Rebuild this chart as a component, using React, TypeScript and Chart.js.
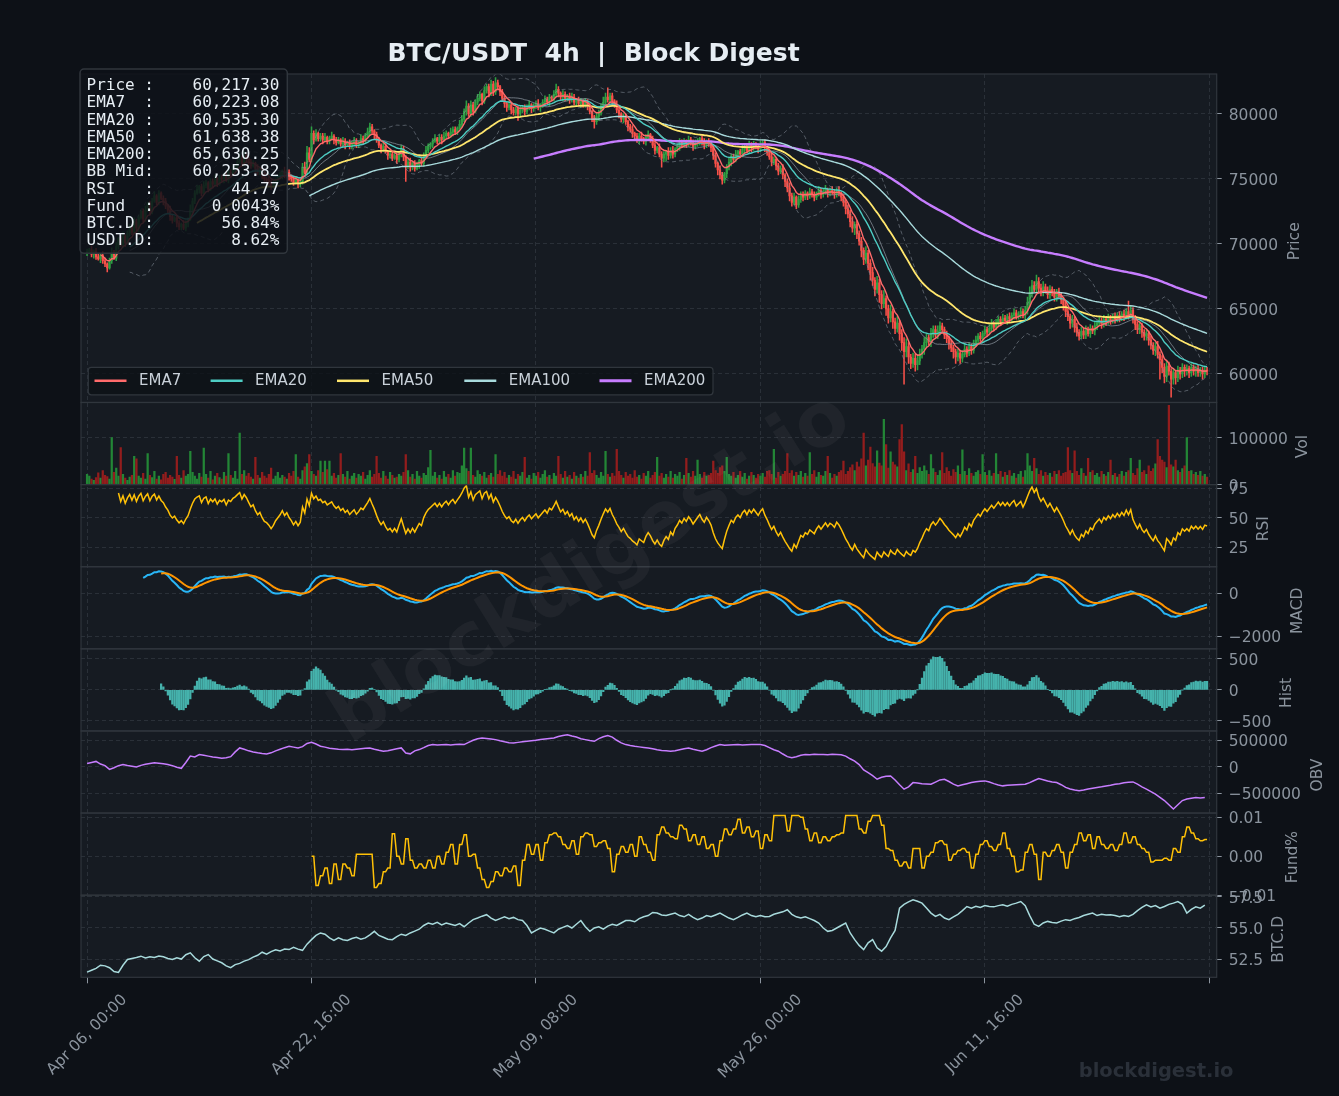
import React, { useEffect, useRef } from 'react';
import { Chart, registerables } from 'chart.js';

Chart.register(...registerables);

// ---------------- data ----------------
const TITLE = 'BTC/USDT  4h  |  Block Digest';
const X_TICKS = [0, 100, 200, 300, 400, 500];
const X_TICK_LABELS = ['Apr 06, 00:00', 'Apr 22, 16:00', 'May 09, 08:00', 'May 26, 00:00', 'Jun 11, 16:00', ''];

const FIRST_OPEN = 69300;
// 4h closes, in units of $10
const CLOSE_X10 = [
  6940,6955,6920,6945,6900,6885,6910,6870,6845,6815,6870,6930,6890,6980,7040,6990,7060,7010,7080,7130,
  7090,7170,7120,7200,7250,7190,7260,7310,7250,7330,7370,7320,7390,7350,7330,7290,7260,7210,7180,7200,
  7160,7130,7150,7120,7160,7190,7260,7330,7390,7420,7440,7390,7450,7470,7420,7480,7460,7500,7460,7510,
  7500,7530,7490,7550,7540,7580,7600,7630,7660,7620,7680,7660,7630,7600,7620,7580,7550,7570,7530,7500,
  7490,7470,7440,7460,7490,7510,7530,7560,7530,7550,7520,7500,7470,7490,7460,7480,7590,7550,7700,7650,
  7850,7800,7850,7810,7830,7800,7820,7790,7810,7830,7800,7780,7800,7770,7790,7760,7780,7750,7770,7790,
  7760,7780,7810,7800,7830,7860,7900,7870,7840,7800,7760,7730,7750,7710,7680,7690,7660,7680,7650,7690,
  7730,7670,7600,7630,7590,7620,7580,7610,7640,7620,7680,7720,7750,7770,7790,7810,7790,7820,7800,7830,
  7850,7830,7860,7880,7860,7890,7920,7960,8020,8060,8000,8070,8020,8090,8120,8150,8100,8180,8210,8160,
  8230,8170,8240,8210,8170,8120,8080,8050,8070,8030,8010,8040,8000,8030,8050,8020,8050,8070,8040,8060,
  8080,8050,8070,8090,8110,8090,8130,8120,8150,8190,8160,8130,8150,8120,8140,8110,8130,8090,8110,8080,
  8100,8070,8090,8060,8020,7970,7940,7980,8010,8050,8090,8130,8110,8140,8100,8070,8030,8000,7960,7980,
  7940,7900,7880,7850,7830,7800,7830,7810,7790,7820,7840,7810,7760,7720,7740,7690,7660,7690,7710,7680,
  7720,7690,7730,7750,7780,7760,7790,7770,7800,7780,7750,7770,7790,7810,7780,7760,7790,7770,7740,7680,
  7620,7570,7530,7490,7540,7590,7630,7670,7650,7690,7710,7690,7730,7750,7720,7760,7740,7770,7750,7730,
  7760,7780,7740,7710,7670,7630,7650,7600,7560,7580,7530,7480,7430,7370,7320,7360,7300,7340,7380,7360,
  7390,7370,7400,7380,7360,7390,7410,7380,7400,7420,7390,7410,7400,7380,7410,7390,7360,7320,7270,7230,
  7170,7120,7150,7080,7020,6950,6880,6930,6850,6780,6720,6650,6700,6610,6540,6580,6500,6430,6480,6400,
  6350,6390,6310,6240,6170,6210,6130,6080,6120,6070,6100,6150,6190,6240,6280,6250,6310,6340,6300,6330,
  6370,6340,6300,6270,6230,6200,6170,6130,6160,6120,6150,6190,6160,6210,6180,6230,6260,6290,6270,6310,
  6340,6320,6350,6380,6360,6390,6420,6400,6430,6410,6440,6420,6450,6470,6440,6460,6480,6450,6490,6550,
  6620,6680,6650,6710,6660,6630,6670,6640,6610,6650,6620,6590,6630,6600,6570,6530,6480,6440,6390,6420,
  6360,6320,6290,6330,6300,6340,6310,6350,6330,6370,6390,6410,6380,6420,6400,6430,6410,6440,6420,6450,
  6430,6460,6440,6480,6450,6490,6420,6380,6340,6370,6320,6290,6310,6260,6220,6180,6210,6150,6110,6050,
  5980,6060,6020,5960,6010,5970,6030,6000,6050,6020,6040,6010,6050,6020,6040,6010,6030,6000,6030,6021.73,
];
// upper / lower wick beyond the body, in units of $100
const WICK_UP_X100 = [
  2,1,3,1,2,2,1,3,2,1,2,4,2,3,1,2,3,1,2,2, 1,3,2,2,1,2,3,1,2,2,3,1,2,1,2,2,1,3,2,1,
  2,2,1,3,2,1,4,2,2,3,1,2,3,2,1,2,2,3,1,2, 2,1,3,2,2,3,1,2,4,2,3,2,1,2,2,1,3,2,1,2,
  1,2,2,3,1,2,2,1,3,2,2,1,2,3,1,2,3,4,5,4, 5,2,3,1,2,2,3,1,2,3,1,2,2,1,3,2,1,2,2,3,
  2,1,3,2,2,3,3,2,1,2,2,1,3,2,1,2,2,3,1,2, 3,2,1,2,3,1,2,2,1,3,2,3,2,1,2,3,1,2,2,3,
  2,1,3,2,2,1,3,3,2,4,2,3,2,2,3,2,1,3,2,2, 3,2,4,2,1,2,2,1,3,2,2,1,2,3,1,2,2,3,1,2,
  2,3,1,2,3,2,2,1,3,4,2,1,3,2,1,2,3,2,1,2, 2,1,3,2,2,1,2,3,2,3,4,3,7,2,2,1,3,2,1,2,
  2,1,2,3,1,2,2,3,1,2,3,1,2,2,1,3,2,2,1,3, 2,3,1,2,3,2,2,1,3,2,2,3,2,1,2,3,1,2,2,1,
  2,1,3,2,1,2,3,2,2,3,1,2,3,2,1,3,2,2,1,2, 3,2,2,1,2,3,2,1,2,2,3,1,2,4,2,3,1,3,2,2,
  2,1,3,2,2,1,3,2,2,3,1,2,3,2,2,3,1,2,2,3, 3,4,2,3,2,3,2,5,2,3,4,2,5,3,3,6,2,3,5,2,
  3,5,2,3,4,6,3,2,4,3,5,4,3,4,3,2,4,3,3,4, 3,2,2,3,2,3,2,2,3,2,3,4,2,3,2,3,3,2,3,2,
  3,2,3,4,2,3,2,2,3,2,2,3,2,3,2,2,3,2,3,4, 5,4,3,5,3,3,4,2,3,3,2,3,2,3,2,2,3,2,2,3,
  2,3,2,3,2,3,2,3,2,3,2,3,2,3,2,3,2,2,3,2, 3,2,3,2,8,3,2,3,2,3,2,2,3,2,3,2,3,4,2,3,
  3,4,3,2,3,2,3,2,3,2,3,2,3,2,2,3,2,2,3,2,
];
const WICK_DN_X100 = [
  2,1,2,3,2,1,3,2,2,3,1,2,1,2,2,1,2,3,1,2, 2,1,2,3,1,2,2,1,3,2,1,2,2,1,3,2,2,3,2,1,
  3,2,2,1,2,3,1,2,2,1,3,2,1,2,2,1,3,2,2,1, 2,3,1,2,2,1,3,2,1,2,2,3,2,2,1,3,2,2,3,2,
  2,3,2,1,2,2,1,3,2,2,3,2,2,1,3,2,2,1,2,2, 2,3,1,2,2,3,1,2,2,1,3,2,1,2,2,3,1,2,2,1,
  2,2,1,3,2,1,2,2,3,2,2,3,2,1,3,2,2,1,3,2, 2,3,12,2,3,2,2,1,3,2,2,1,2,2,3,1,2,2,3,1,
  2,2,1,3,2,2,1,2,2,3,2,2,3,1,2,2,3,2,2,3, 2,3,2,2,3,2,3,3,2,3,2,2,5,2,2,3,2,2,3,2,
  2,2,3,2,2,1,3,2,2,2,3,2,3,2,2,3,2,2,3,2, 3,2,2,3,2,3,5,2,3,2,2,3,2,2,3,2,2,3,2,3,
  2,3,2,3,2,2,3,2,2,3,2,3,2,3,2,2,7,3,5,3, 2,3,2,2,3,2,2,3,2,2,3,2,2,3,2,3,2,2,3,3,
  3,4,3,3,2,3,2,3,2,2,3,2,2,3,2,2,3,2,2,3, 2,2,3,3,2,3,2,3,3,2,3,4,3,4,3,2,3,2,2,3,
  2,3,2,2,3,2,2,3,2,2,3,2,2,3,2,2,3,3,4,3, 4,3,5,4,3,5,4,3,5,6,4,5,3,6,4,3,5,4,3,5,
  4,3,5,6,25,4,5,4,3,5,4,3,3,4,3,3,4,3,2,3, 3,2,3,3,4,3,5,5,3,4,3,2,3,2,3,2,2,3,2,3,
  2,3,2,2,3,2,2,3,2,2,3,2,2,3,2,2,3,2,3,3, 3,3,2,3,4,3,3,2,3,3,2,3,3,2,3,4,4,3,4,3,
  4,3,3,2,3,3,2,3,2,3,3,2,3,2,3,2,3,2,3,2, 3,2,3,2,3,2,3,4,3,3,4,3,3,4,3,3,4,3,15,4,
  5,4,3,14,4,5,3,4,3,4,3,4,3,3,4,3,3,4,3,3,
];
// volume per candle, thousands
const VOLUME_K = [
  22,18,12,9,15,25,14,30,20,17,12,100,26,35,18,79,22,14,9,16, 20,60,55,18,14,24,12,66,20,15,28,12,18,10,22,26,14,20,16,11,
  60,20,14,30,18,22,71,26,18,12,24,16,78,22,14,28,10,18,24,15, 12,26,18,66,20,14,28,12,110,22,30,18,24,16,12,58,20,14,26,18,
  14,22,35,12,18,26,14,20,16,12,24,18,28,64,16,12,30,38,45,64, 28,22,18,30,50,26,50,32,50,18,24,14,20,66,22,16,28,12,18,24,
  14,22,18,26,12,20,30,16,22,60,24,14,28,18,12,26,20,14,16,22, 18,26,64,30,16,22,12,28,18,14,24,20,36,73,18,26,14,20,12,28,
  16,22,14,30,18,26,24,40,78,34,28,78,20,16,30,22,18,26,14,20, 24,16,64,22,30,18,26,14,20,16,28,12,22,18,26,58,14,20,12,24,
  18,26,14,22,30,16,20,12,24,18,60,22,14,28,16,20,12,26,18,14, 22,16,28,18,68,24,30,20,14,26,18,71,22,16,24,18,75,28,20,14,
  26,18,22,14,30,16,20,12,24,18,28,14,20,26,58,18,24,14,22,16, 28,14,22,18,26,12,20,56,24,16,28,18,52,22,14,26,18,20,24,50,
  30,24,36,40,28,58,22,18,26,14,20,28,16,24,12,18,26,20,14,22, 18,24,16,28,30,22,75,14,26,18,22,28,66,24,30,18,26,20,28,16,
  24,18,68,22,30,16,26,20,18,28,60,24,14,22,18,26,30,50,22,28, 36,42,30,48,38,55,110,40,52,80,45,38,72,46,40,139,85,35,70,48,
  42,38,96,128,70,30,44,26,32,60,24,36,28,40,30,22,64,34,26,20, 30,68,24,36,28,18,32,26,40,22,74,28,20,34,24,18,26,30,22,64,
  26,20,30,18,24,66,22,28,16,26,20,30,18,24,14,22,28,16,30,66, 40,28,56,34,22,30,18,26,20,24,16,28,22,30,18,24,26,79,30,24,
  72,28,20,34,24,18,56,26,30,20,24,16,28,22,18,26,52,20,24,16, 22,28,18,26,30,56,24,20,34,52,26,30,22,40,28,34,44,96,60,52,
  48,36,169,42,38,52,30,26,34,40,100,28,30,22,26,20,28,18,22,16,
];
// OBV every 2 candles, thousands
const OBV_K = [
  60,80,100,50,20,-50,-20,20,43,25, 10,-6,25,45,60,75,65,55,43,20,
  -10,-30,80,200,185,230,215,200,185,175, 160,168,190,280,355,330,300,280,262,250,
  240,262,300,330,360,386,370,355,380,440, 461,430,386,370,350,340,330,324,330,320,
  330,340,350,355,330,310,293,300,320,340, 355,260,243,300,324,360,400,418,410,415,
  420,410,418,425,418,460,500,530,543,535, 525,512,490,470,455,449,460,470,480,490,
  500,515,525,535,543,570,590,605,580,560, 530,512,495,480,530,565,590,560,500,450,
  418,400,385,375,365,355,340,320,305,300, 293,300,320,340,355,330,310,293,320,360,
  390,418,405,410,415,418,410,415,420,418, 418,400,360,320,293,240,190,168,190,215,
  230,225,235,230,230,225,235,230,225,200, 150,106,40,-60,-112,-170,-237,-200,-180,-175,
  -250,-340,-425,-380,-300,-310,-320,-325,-331,-290, -250,-237,-280,-330,-362,-340,-320,-300,-285,-275,
  -268,-290,-320,-345,-362,-350,-345,-340,-335,-330, -300,-260,-225,-245,-270,-290,-300,-340,-390,-420,
  -440,-456,-440,-420,-405,-393,-380,-365,-350,-331, -320,-305,-295,-287,-330,-380,-425,-470,-520,-581,
  -640,-720,-800,-720,-640,-612,-595,-581,-590,-581,
];
// BTC dominance every 2 candles, in 0.01 %
const BTCD_X100 = [
  5145,5160,5175,5200,5195,5180,5150,5142,5200,5246, 5255,5262,5273,5258,5268,5262,5275,5268,5255,5246,
  5260,5250,5285,5300,5260,5233,5270,5286,5250,5235, 5220,5195,5180,5205,5215,5233,5245,5265,5280,5305,
  5290,5310,5325,5315,5330,5326,5345,5330,5320,5370, 5406,5440,5460,5450,5420,5400,5420,5406,5400,5415,
  5425,5410,5420,5445,5473,5440,5425,5410,5406,5430, 5450,5440,5460,5475,5490,5520,5540,5530,5545,5525,
  5540,5530,5520,5535,5510,5540,5567,5580,5595,5607, 5580,5560,5575,5590,5575,5585,5567,5560,5520,5460,
  5480,5500,5490,5475,5460,5490,5505,5520,5500,5530, 5560,5510,5473,5500,5510,5490,5515,5530,5520,5540,
  5560,5560,5550,5575,5590,5600,5625,5620,5605,5600, 5610,5620,5600,5590,5610,5585,5567,5580,5600,5590,
  5605,5620,5600,5580,5567,5585,5605,5620,5600,5590, 5600,5590,5593,5610,5620,5630,5647,5610,5590,5580,
  5590,5575,5560,5540,5500,5473,5480,5500,5520,5540, 5460,5406,5360,5326,5380,5406,5340,5313,5350,5420,
  5480,5660,5690,5710,5727,5715,5700,5660,5620,5593, 5610,5580,5567,5590,5610,5640,5673,5660,5675,5665,
  5680,5673,5670,5680,5687,5675,5690,5700,5713,5680, 5600,5530,5513,5540,5553,5545,5540,5555,5567,5560,
  5575,5585,5600,5610,5620,5600,5610,5605,5607,5600, 5590,5600,5593,5610,5640,5665,5687,5670,5680,5660,
  5673,5690,5700,5713,5690,5620,5650,5670,5660,5684,
];
// funding rate per 8h (2 candles) from candle 100, in 0.001 %
const FUND_START = 100;
const FUND_MILLI = [
  0,-7.5,-5,-3,-7,-2,-6,-2,-3,-5, 0.5,0.5,0.5,0.5,-8,-7,-4,-3,5.8,0,
  -2,4.5,-1,-3,-2,-3,-1,-3,0,-2, 1,3,-2,3,5.5,0,0.5,-3,-6,-8,
  -6.5,-4,-5,-3,-4,-2.5,-7.5,-1,3,0.5, 3,-1,3.5,5.5,6,5,3,2,4,0.5,
  5,6,5.5,2.5,3.5,4,2,-4,0.5,2.5, 1,3,0,5,3,1,-1,5.5,7.5,6,
  5,4.5,8,7,4,5.5,3,5,2,3, 0,4,7,5.5,7,9.5,6,7.5,5,6.5,
  2,5.5,4,10.5,10.5,10.5,6.5,10.5,10.5,10, 7,4,6,3.5,5,4,5,5.5,6,10.5,
  10.5,10.5,7,6,9,10.5,10.5,8,2,1.5, -1,-2.5,-1.5,-3,2,2,-3,0,1,3.5,
  4,3,-1,0.5,1.5,2,1,-3,0.5,3, 4,2.5,1.5,3,6,2,0,-4,-3.5,1,
  3,0.5,-6,1,0,1.5,3,1,-3,1, 3,6,4,5.5,2,5,3,2,3,1.5,
  3,6,3.5,5,3,2,1,-1.5,-1,-1, -0.5,-1,2,1,5,7.5,6,4.5,4,4.3,
];

const EMA_SPANS = [7, 20, 50, 100, 200];
const EMA_LABELS = ['EMA7', 'EMA20', 'EMA50', 'EMA100', 'EMA200'];
const INFO_LABELS = ['Price :', 'EMA7  :', 'EMA20 :', 'EMA50 :', 'EMA200:', 'BB Mid:', 'RSI   :', 'Fund  :', 'BTC.D :', 'USDT.D:'];
const INFO_VALUES = ['60,217.30', '60,223.08', '60,535.30', '61,638.38', '65,630.25', '60,253.82', '44.77', '0.0043%', '56.84%', '8.62%'];

const PRICE_TICKS = [60000, 65000, 70000, 75000, 80000];
const VOL_TICKS = [0, 100000];
const RSI_TICKS = [25, 50, 75];
const MACD_TICKS = [-2000, 0];
const HIST_TICKS = [-500, 0, 500];
const OBV_TICKS = [-500000, 0, 500000];
const FUND_TICKS = [-0.01, 0, 0.01];
const BTCD_TICKS = [52.5, 55, 57.5];

// ---------------- styling ----------------
const W = 1339;
const H = 1096;
const FONT = 'DejaVu Sans';
const C_BG = '#0d1117';
const C_PANEL = '#161b22';
const C_EDGE = '#30363d';
const C_GRID = '#30363d';
const C_TEXT = '#8b949e';
const C_TITLE = '#e6edf3';
const C_UP = '#2ea043';
const C_DN = '#f85149';
const C_VUP = '#238636';
const C_VDN = '#931d1d';
const EMA_COLORS = ['#ff6b6b', '#4ecdc4', '#ffe66d', '#a8dadc', '#c77dff'];
const EMA_WIDTHS = [1.4, 1.4, 1.8, 1.4, 2.4];
const LEGEND_X = [94.5, 210.6, 337, 464.3, 599.5];
const AREA_TOP = 74;
const AREA_BOTTOM = 977.3;

const minus = (s: string) => s.replace('-', '\u2212');

const PANELS = [
  { id: 'yP', title: 'Price', min: 57800, max: 83070, ticks: PRICE_TICKS, w: 4, tx: 1295, fmt: (v: number) => String(v) },
  { id: 'yV', title: 'Vol', min: 0, max: 175000, ticks: VOL_TICKS, w: 1, tx: 1302.7, fmt: (v: number) => String(v) },
  { id: 'yR', title: 'RSI', min: 8.7, max: 78, ticks: RSI_TICKS, w: 1, tx: 1263.5, fmt: (v: number) => String(v) },
  { id: 'yM', title: 'MACD', min: -2576, max: 1245, ticks: MACD_TICKS, w: 1, tx: 1298.3, fmt: (v: number) => minus(String(v)) },
  { id: 'yH', title: 'Hist', min: -660, max: 660, ticks: HIST_TICKS, w: 1, tx: 1287.3, fmt: (v: number) => minus(String(v)) },
  { id: 'yO', title: 'OBV', min: -876000, max: 676000, ticks: OBV_TICKS, w: 1, tx: 1318.3, fmt: (v: number) => minus(String(v)) },
  { id: 'yF', title: 'Fund%', min: -0.01, max: 0.0111, ticks: FUND_TICKS, w: 1, tx: 1293.3, fmt: (v: number) => minus(v.toFixed(2)) },
  { id: 'yB', title: 'BTC.D', min: 51.03, max: 57.64, ticks: BTCD_TICKS, w: 1, tx: 1279.3, fmt: (v: number) => v.toFixed(1) },
];

// ---------------- indicator helpers ----------------
function emaRaw(src: number[], span: number): number[] {
  const a = 2 / (span + 1);
  const out: number[] = [];
  let prev = src[0];
  for (let i = 0; i < src.length; i++) {
    prev = i === 0 ? src[0] : a * src[i] + (1 - a) * prev;
    out.push(prev);
  }
  return out;
}

function roundRect(ctx: CanvasRenderingContext2D, x: number, y: number, w: number, h: number, r: number) {
  ctx.beginPath();
  ctx.moveTo(x + r, y);
  ctx.lineTo(x + w - r, y);
  ctx.arcTo(x + w, y, x + w, y + r, r);
  ctx.lineTo(x + w, y + h - r);
  ctx.arcTo(x + w, y + h, x + w - r, y + h, r);
  ctx.lineTo(x + r, y + h);
  ctx.arcTo(x, y + h, x, y + h - r, r);
  ctx.lineTo(x, y + r);
  ctx.arcTo(x, y, x + r, y, r);
  ctx.closePath();
}

export default function App() {
  const ref = useRef<HTMLCanvasElement>(null);

  useEffect(() => {
    const canvas = ref.current;
    if (!canvas) return;
    const N = CLOSE_X10.length;
    const close = CLOSE_X10.map((v) => v * 10);
    const open = close.map((c, i) => (i === 0 ? FIRST_OPEN : close[i - 1]));
    const high = close.map((c, i) => Math.max(c, open[i]) + (WICK_UP_X100[i] ?? 2) * 100);
    const low = close.map((c, i) => Math.min(c, open[i]) - (WICK_DN_X100[i] ?? 2) * 100);
    const candleCol = close.map((c, i) => (c >= open[i] ? C_UP : C_DN));
    const volCol = close.map((c, i) => (c >= open[i] ? C_VUP : C_VDN));

    const emas = EMA_SPANS.map((span) => emaRaw(close, span).map((v, i) => (i >= span - 1 ? v : null)));
    const bbMid: (number | null)[] = [];
    const bbUp: (number | null)[] = [];
    const bbLo: (number | null)[] = [];
    for (let i = 0; i < N; i++) {
      if (i < 19) { bbMid.push(null); bbUp.push(null); bbLo.push(null); continue; }
      const win = close.slice(i - 19, i + 1);
      const m = win.reduce((a, b) => a + b, 0) / 20;
      const sd = Math.sqrt(win.reduce((a, b) => a + (b - m) * (b - m), 0) / 19);
      bbMid.push(m); bbUp.push(m + 2 * sd); bbLo.push(m - 2 * sd);
    }
    const rsi: (number | null)[] = [null];
    let ag = 0, al = 0;
    for (let i = 1; i < N; i++) {
      const d = close[i] - close[i - 1];
      const g = Math.max(d, 0), l = Math.max(-d, 0);
      if (i === 1) { ag = g; al = l; } else { ag += (g - ag) / 14; al += (l - al) / 14; }
      rsi.push(i >= 14 ? (al === 0 ? 100 : 100 - 100 / (1 + ag / al)) : null);
    }
    const e12 = emaRaw(close, 12), e26 = emaRaw(close, 26);
    const macd: (number | null)[] = close.map((_, i) => (i >= 25 ? e12[i] - e26[i] : null));
    const signal: (number | null)[] = [];
    const hist: (number | null)[] = [];
    let s = 0;
    for (let i = 0; i < N; i++) {
      if (i < 25) { signal.push(null); hist.push(null); continue; }
      s = i === 25 ? (macd[i] as number) : 0.2 * (macd[i] as number) + 0.8 * s;
      signal.push(i >= 33 ? s : null);
      hist.push(i >= 33 ? (macd[i] as number) - s : null);
    }

    const xy = (arr: (number | null)[]) => arr.map((y, i) => ({ x: i, y }));
    const line = (label: string, data: any[], color: string, width: number, yAxisID: string, order: number, extra: any = {}) => ({
      type: 'line', label, data, borderColor: color, backgroundColor: color, borderWidth: width,
      pointRadius: 0, pointHoverRadius: 0, tension: 0, fill: false, spanGaps: false, yAxisID, xAxisID: 'x', order, ...extra,
    });

    const datasets: any[] = [];
    EMA_LABELS.forEach((lab, k) => datasets.push(line(lab, xy(emas[k]), EMA_COLORS[k], EMA_WIDTHS[k], 'yP', 1 + k)));
    datasets.push(line('BB Mid', xy(bbMid), 'rgba(139,148,158,0.75)', 1, 'yP', 8));
    datasets.push(line('BB Upper', xy(bbUp), 'rgba(139,148,158,0.55)', 1, 'yP', 9, { borderDash: [4, 3] }));
    datasets.push(line('BB Lower', xy(bbLo), 'rgba(139,148,158,0.55)', 1, 'yP', 9, { borderDash: [4, 3] }));
    datasets.push({
      type: 'bar', label: 'wick', data: close.map((_, i) => ({ x: i, y: [low[i], high[i]] })),
      backgroundColor: candleCol, barThickness: 0.9, grouped: false, yAxisID: 'yP', xAxisID: 'x', order: 21,
    });
    datasets.push({
      type: 'bar', label: 'body', data: close.map((c, i) => ({ x: i, y: [open[i], c] })),
      backgroundColor: candleCol, barThickness: 1.6, minBarLength: 1, grouped: false, yAxisID: 'yP', xAxisID: 'x', order: 20,
    });
    datasets.push({
      type: 'bar', label: 'Vol', data: VOLUME_K.map((v, i) => ({ x: i, y: v * 1000 })),
      backgroundColor: volCol, barThickness: 1.6, grouped: false, yAxisID: 'yV', xAxisID: 'x', order: 20,
    });
    datasets.push(line('RSI', xy(rsi), '#ffc107', 1.5, 'yR', 1));
    datasets.push(line('MACD', xy(macd), '#29b6f6', 2, 'yM', 2));
    datasets.push(line('Signal', xy(signal), '#ff9500', 2, 'yM', 1));
    datasets.push({
      type: 'bar', label: 'Hist', data: hist.map((y, i) => ({ x: i, y })).filter((p) => p.y !== null),
      backgroundColor: 'rgba(78,205,196,0.85)', barThickness: 1.6, grouped: false, yAxisID: 'yH', xAxisID: 'x', order: 20,
    });
    datasets.push(line('OBV', OBV_K.map((v, k) => ({ x: 2 * k, y: v * 1000 })), '#c77dff', 1.5, 'yO', 1));
    const fundPts: any[] = [];
    for (let i = FUND_START; i < N; i++) {
      const k = Math.floor((i - FUND_START) / 2);
      if (k < FUND_MILLI.length) fundPts.push({ x: i, y: FUND_MILLI[k] / 1000 });
    }
    datasets.push(line('Fund%', fundPts, '#ffc107', 1.5, 'yF', 1));
    datasets.push(line('BTC.D', BTCD_X100.map((v, k) => ({ x: 2 * k, y: v / 100 })), '#a8dadc', 1.5, 'yB', 1));

    const scales: any = {
      x: {
        type: 'linear', position: 'bottom', min: -2.7, max: 503.3, offset: false,
        afterBuildTicks: (sc: any) => { sc.ticks = X_TICKS.map((v) => ({ value: v })); },
        afterFit: (sc: any) => { sc.height = H - AREA_BOTTOM; },
        ticks: { display: false, autoSkip: false },
        grid: { color: C_GRID, lineWidth: 0.8, offset: false, drawTicks: true, tickLength: 6, tickColor: C_TEXT, tickWidth: 1, tickBorderDash: [] },
        border: { display: false, dash: [4, 3] },
      },
    };
    PANELS.forEach((p, idx) => {
      scales[p.id] = {
        type: 'linear', position: 'right', stack: 'panels', stackWeight: p.w, weight: idx + 1,
        min: p.min, max: p.max, offset: false,
        afterBuildTicks: (sc: any) => { sc.ticks = p.ticks.map((v) => ({ value: v })); },
        afterFit: (sc: any) => { sc.width = 122.3; },
        ticks: {
          autoSkip: false, color: C_TEXT, font: { family: FONT, size: 15.5 }, padding: 7, labelOffset: 2,
          callback: (v: any) => p.fmt(Number(v)),
        },
        grid: { color: C_GRID, lineWidth: 0.8, drawTicks: true, tickLength: 5, tickColor: C_TEXT, tickWidth: 1, tickBorderDash: [] },
        border: { display: false, dash: [4, 3] },
      };
    });

    const decor = {
      id: 'decor',
      beforeDraw(chart: any) {
        const { ctx, chartArea: ca } = chart;
        ctx.save();
        ctx.fillStyle = C_BG;
        ctx.fillRect(0, 0, chart.width, chart.height);
        ctx.fillStyle = C_PANEL;
        PANELS.forEach((p) => {
          const sc = chart.scales[p.id];
          ctx.fillRect(ca.left, sc.top, ca.right - ca.left, sc.bottom - sc.top);
        });
        ctx.restore();
      },
      afterDraw(chart: any) {
        const { ctx, chartArea: ca } = chart;
        ctx.save();
        ctx.strokeStyle = C_EDGE;
        ctx.lineWidth = 1.2;
        PANELS.forEach((p) => {
          const sc = chart.scales[p.id];
          ctx.strokeRect(ca.left, sc.top, ca.right - ca.left, sc.bottom - sc.top);
        });
        ctx.fillStyle = C_TEXT;
        ctx.font = `15.5px "${FONT}"`;
        ctx.textAlign = 'center';
        ctx.textBaseline = 'middle';
        PANELS.forEach((p) => {
          const sc = chart.scales[p.id];
          ctx.save();
          ctx.translate(p.tx, (sc.top + sc.bottom) / 2 + 3);
          ctx.rotate(-Math.PI / 2);
          ctx.fillText(p.title, 0, 0);
          ctx.restore();
        });
        const xs = chart.scales.x;
        ctx.font = `15.5px "${FONT}"`;
        X_TICKS.forEach((v, k) => {
          const lab = X_TICK_LABELS[k];
          if (!lab) return;
          const L = ctx.measureText(lab).width;
          const px = xs.getPixelForValue(v);
          const cy = 991 + (L + 18) / (2 * Math.SQRT2);
          ctx.save();
          ctx.translate(px, cy);
          ctx.rotate(-Math.PI / 4);
          ctx.fillText(lab, 0, 0);
          ctx.restore();
        });
        ctx.fillStyle = C_TITLE;
        ctx.font = `bold 25px "${FONT}"`;
        ctx.textBaseline = 'alphabetic';
        ctx.fillText(TITLE, 593.5, 60.5);
        roundRect(ctx, 88.3, 367.3, 624.7, 27.5, 3);
        ctx.fillStyle = 'rgba(13,17,23,0.8)';
        ctx.fill();
        ctx.strokeStyle = C_EDGE;
        ctx.lineWidth = 1.2;
        ctx.stroke();
        ctx.font = `15px "${FONT}"`;
        ctx.textAlign = 'left';
        ctx.textBaseline = 'middle';
        EMA_LABELS.forEach((lab, k) => {
          const x0 = LEGEND_X[k];
          ctx.strokeStyle = EMA_COLORS[k];
          ctx.lineWidth = k === 4 ? 3 : 2.5;
          ctx.beginPath();
          ctx.moveTo(x0, 380.8);
          ctx.lineTo(x0 + 32, 380.8);
          ctx.stroke();
          ctx.fillStyle = '#c9d1d9';
          ctx.fillText(lab, x0 + 44.5, 381.5);
        });
        roundRect(ctx, 80, 69, 207.3, 184.3, 4);
        ctx.fillStyle = 'rgba(13,17,23,0.85)';
        ctx.fill();
        ctx.strokeStyle = C_EDGE;
        ctx.lineWidth = 1.5;
        ctx.stroke();
        ctx.font = '16px "DejaVu Sans Mono"';
        ctx.fillStyle = C_TITLE;
        ctx.textBaseline = 'alphabetic';
        INFO_LABELS.forEach((lab, k) => {
          const y = 90 + k * 17.25;
          ctx.textAlign = 'left';
          ctx.fillText(lab, 86.5, y);
          ctx.textAlign = 'right';
          ctx.fillText(INFO_VALUES[k], 279.3, y);
        });
        ctx.save();
        ctx.translate(592, 570);
        ctx.rotate((-32 * Math.PI) / 180);
        ctx.font = `bold 75px "${FONT}"`;
        ctx.fillStyle = 'rgba(255,255,255,0.045)';
        ctx.textAlign = 'center';
        ctx.textBaseline = 'middle';
        ctx.fillText('blockdigest.io', 0, 0);
        ctx.restore();
        ctx.font = `bold 19.5px "${FONT}"`;
        ctx.fillStyle = '#2a3039';
        ctx.textAlign = 'right';
        ctx.textBaseline = 'alphabetic';
        ctx.fillText('blockdigest.io', 1233.5, 1076.5);
        ctx.restore();
      },
    };

    const chart = new Chart(canvas, {
      type: 'line',
      data: { datasets },
      options: {
        responsive: false,
        maintainAspectRatio: false,
        animation: false,
        devicePixelRatio: 1,
        events: [],
        layout: { padding: { left: 81, top: AREA_TOP, right: 0, bottom: 0 } },
        plugins: { legend: { display: false }, tooltip: { enabled: false }, title: { display: false } },
        scales,
      } as any,
      plugins: [decor],
    } as any);
    return () => chart.destroy();
  }, []);

  return (
    <div style={{ position: 'absolute', left: 0, top: 0, width: W, height: H, background: C_BG }}>
      <canvas ref={ref} width={W} height={H} style={{ display: 'block', width: W, height: H }} />
    </div>
  );
}
